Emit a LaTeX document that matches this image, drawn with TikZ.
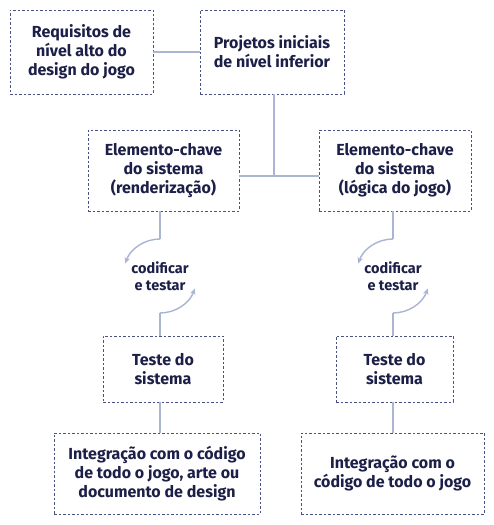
\documentclass[tikz,border=0pt]{standalone}
\usepackage{fontspec}
\setmainfont{Fira Sans}
\usetikzlibrary{arrows.meta}
\definecolor{txt}{HTML}{1C1F47}
\definecolor{bord}{HTML}{4A5285}
\definecolor{conncol}{HTML}{A9B5D3}
\begin{document}
\begin{tikzpicture}[x=1pt,y=1pt,
 box/.style={draw=bord, line width=0.9pt, dash pattern=on 2.5pt off 2pt, align=center, inner sep=0pt, text=txt, font=\fontsize{16}{19}\selectfont\bfseries},
 connline/.style={draw=conncol, line width=1.4pt},
 looparrow/.style={connline, -{Stealth[length=6pt,width=5.5pt]}},
 lbl/.style={align=center, text=txt, inner sep=0pt, font=\fontsize{14.5}{16.5}\selectfont\bfseries}]
\useasboundingbox[fill=white] (0,0) rectangle (494,525);
% boxes
\node[box, minimum width=143, minimum height=84] (b1) at (81.5,473) {Requisitos de\\nível alto do\\design do jogo};
\node[box, minimum width=144, minimum height=84] (b2) at (272,473) {Projetos iniciais\\de nível inferior};
\node[box, minimum width=151, minimum height=81] (b3) at (163.5,354.5) {Elemento-chave\\do sistema\\(renderização)};
\node[box, minimum width=152, minimum height=81] (b4) at (395,354.5) {Elemento-chave\\do sistema\\(lógica do jogo)};
\node[box, minimum width=120, minimum height=66] (b5) at (163,156) {Teste do\\sistema};
\node[box, minimum width=117, minimum height=66] (b6) at (394.5,156) {Teste do\\sistema};
\node[box, minimum width=206, minimum height=81] (b7) at (157,51.5) {Integração com o código\\de todo o jogo, arte ou\\documento de design};
\node[box, minimum width=183, minimum height=81] (b8) at (392.5,51.5) {Integração com o\\código de todo o jogo};
% loop labels
\node[lbl] (l1) at (160,249) {codificar\\e testar};
\node[lbl] (l2) at (393,249) {codificar\\e testar};
% junction coordinates
\coordinate (j) at (274,349);
\coordinate (a1) at (160,286);
\coordinate (a2) at (160,212);
\coordinate (c1) at (393,286);
\coordinate (c2) at (393,212);
% connectors
\draw[connline] (b1) -- (b2);
\draw[connline] (b2.south -| j) -- (j);
\draw[connline] (b3.east |- j) -- (b4.west |- j);
\draw[connline] (b3.south -| a1) -- (a1);
\draw[connline] (b4.south -| c1) -- (c1);
\draw[looparrow] (a1) arc[start angle=90, end angle=160, radius=37];
\draw[looparrow] (a2) arc[start angle=270, end angle=340, radius=37];
\draw[looparrow] (c1) arc[start angle=90, end angle=160, radius=37];
\draw[looparrow] (c2) arc[start angle=270, end angle=340, radius=37];
\draw[connline] (a2) -- (b5.north -| a2);
\draw[connline] (c2) -- (b6.north -| c2);
\draw[connline] (b5.south -| a2) -- (b7.north -| a2);
\draw[connline] (b6.south -| c2) -- (b8.north -| c2);
\end{tikzpicture}
\end{document}
